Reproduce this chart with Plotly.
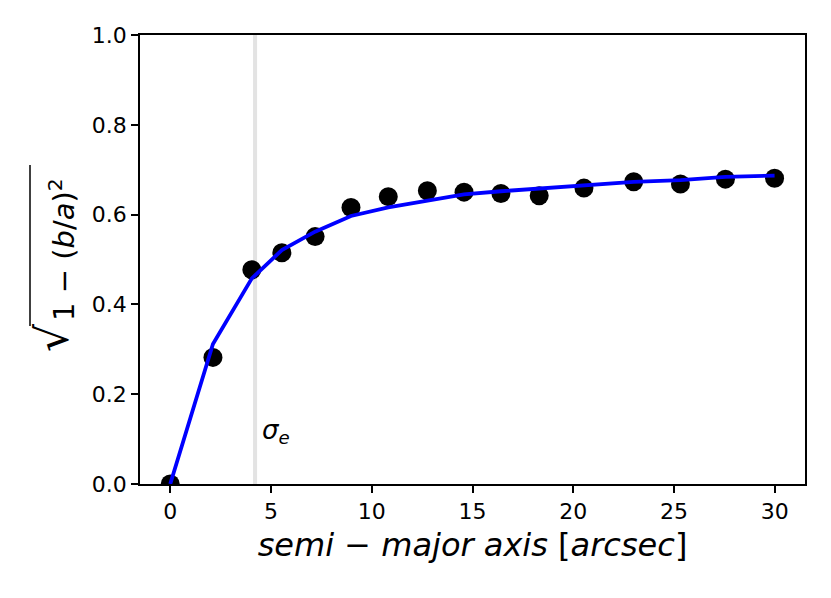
import plotly.graph_objects as go

# data
sma = [0.0, 2.12, 4.05, 5.54, 7.19, 8.97, 10.82, 12.76, 14.58, 16.41, 18.31, 20.53, 23.0, 25.32, 27.55, 29.99]
ell_obs = [0.0, 0.282, 0.477, 0.515, 0.551, 0.616, 0.640, 0.653, 0.650, 0.647, 0.642, 0.659, 0.673, 0.668, 0.679, 0.681]
ell_fit = [0.0, 0.312, 0.458, 0.521, 0.562, 0.597, 0.616, 0.632, 0.645, 0.652, 0.658, 0.666, 0.673, 0.677, 0.684, 0.687]
sigma_e = 4.21
x_ticks = [0, 5, 10, 15, 20, 25, 30]
y_ticks = [0.0, 0.2, 0.4, 0.6, 0.8, 1.0]

OFF = 8  # page body margin
W, H = 831 - OFF, 598 - OFF
L, R, T, B = 140 - OFF, 26, 35 - OFF, 114
PW = W - L - R
PH = H - T - B

def px_x(p):
    return (p - OFF - L) / PW

def px_y(p):
    return (H - B - (p - OFF)) / PH

FONT = "DejaVu Sans"

fig = go.Figure()

fig.add_trace(go.Scatter(
    x=sma, y=ell_obs, mode="markers",
    marker=dict(color="black", size=19, line=dict(width=0)),
    showlegend=False,
))
fig.add_trace(go.Scatter(
    x=sma, y=ell_fit, mode="lines",
    line=dict(color="#0000ff", width=3.8),
    showlegend=False,
))

fig.add_shape(type="line", xref="x", yref="paper", x0=sigma_e, x1=sigma_e, y0=0, y1=1,
              line=dict(color="#e3e3e3", width=4), layer="below")

fig.add_annotation(x=4.45, y=0.075, xref="x", yref="y", xanchor="left", yanchor="bottom",
                   text="<i>σ</i><sub><i>e</i></sub>", showarrow=False,
                   font=dict(family=FONT, size=26, color="black"))

# y-axis label: sqrt(1 - (b/a)^2)
fig.add_annotation(x=px_x(62), y=px_y(250), xref="paper", yref="paper",
                   text="1 − (<i>b</i>/<i>a</i>)<sup>2</sup>", textangle=-90, showarrow=False,
                   xanchor="center", yanchor="middle",
                   font=dict(family=FONT, size=29, color="black"))
fig.add_annotation(x=px_x(52), y=px_y(338), xref="paper", yref="paper",
                   text="√", textangle=-90, showarrow=False,
                   xanchor="center", yanchor="middle",
                   font=dict(family=FONT, size=44, color="black"))
fig.add_shape(type="line", xref="paper", yref="paper",
              x0=px_x(30), x1=px_x(30), y0=px_y(165), y1=px_y(326),
              line=dict(color="black", width=1.5))

fig.update_layout(
    width=W, height=H,
    margin=dict(l=L, r=R, t=T, b=B),
    paper_bgcolor="white", plot_bgcolor="white",
    font=dict(family=FONT, size=20, color="black"),
    xaxis=dict(
        range=[-1.5, 31.5], tickvals=x_ticks, ticktext=[str(v) for v in x_ticks],
        showgrid=False, zeroline=False, showline=True, linecolor="black", linewidth=1.5,
        mirror=True, ticks="outside", ticklen=7, tickwidth=1.5, tickcolor="black",
        tickfont=dict(family=FONT, size=22),
        title=dict(text="<i>semi − major axis </i>[<i>arcsec</i>]",
                   font=dict(family=FONT, size=32), standoff=10),
    ),
    yaxis=dict(
        range=[0, 1], tickvals=y_ticks, ticktext=[f"{v:.1f}" for v in y_ticks],
        showgrid=False, zeroline=False, showline=True, linecolor="black", linewidth=1.5,
        mirror=True, ticks="outside", ticklen=7, tickwidth=1.5, tickcolor="black",
        tickfont=dict(family=FONT, size=22),
    ),
)

fig.write_html("out.html")
